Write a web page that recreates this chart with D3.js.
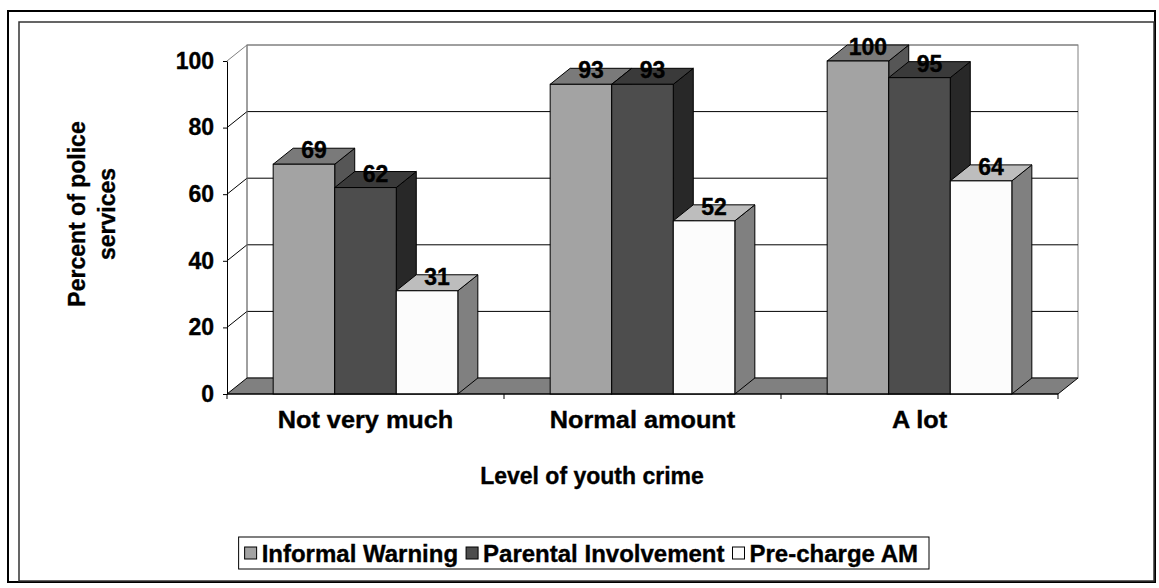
<!DOCTYPE html>
<html>
<head>
<meta charset="utf-8">
<script src="https://cdn.jsdelivr.net/npm/d3@7"></script>
<style>
  html, body { margin: 0; padding: 0; background: #fff; }
  text { font-family: "Liberation Sans", Arial, sans-serif; font-weight: bold; fill: #000;
         stroke: #000; stroke-width: 0.35px; }
</style>
</head>
<body>
<script>
// Chart data
const categories = ["Not very much", "Normal amount", "A lot"];
const seriesNames = ["Informal Warning", "Parental Involvement", "Pre-charge AM"];
const informalWarning = [69, 93, 100];
const parentalInvolvement = [62, 93, 95];
const preChargeAM = [31, 52, 64];
const yTicks = [0, 20, 40, 60, 80, 100];
const xTitle = "Level of youth crime";
const yTitleLines = ["Percent of police", "services"];

const seriesValues = [informalWarning, parentalInvolvement, preChargeAM];

// Face shades per series: front, top, side
const shades = [
  { front: "#a3a3a3", top: "#7a7a7a", side: "#565656" },
  { front: "#4d4d4d", top: "#3a3a3a", side: "#282828" },
  { front: "#fcfcfc", top: "#bdbdbd", side: "#808080" }
];

const W = 1159, H = 588;
const DX = 20, DY = -16;           // 3D depth offset
const FONT = 23;

const svg = d3.select("body").append("svg")
  .attr("width", W).attr("height", H);

// Frames
svg.append("rect").attr("x", 8).attr("y", 11).attr("width", 1147).attr("height", 571)
  .attr("fill", "#fff").attr("stroke", "#000").attr("stroke-width", 2);
svg.append("rect").attr("x", 19).attr("y", 22).attr("width", 1135).attr("height", 559)
  .attr("fill", "none").attr("stroke", "#333").attr("stroke-width", 1.5);

const x0 = d3.scaleBand().domain(categories).range([227, 1058]);
const x1 = d3.scaleBand().domain(seriesNames).range([0, x0.bandwidth()])
  .paddingInner(0).paddingOuter(0.75);
const y = d3.scaleLinear().domain([0, 100]).range([394, 61]);

const [xl, xr] = x0.range();
const plot = svg.append("g");

// Back wall
plot.append("rect")
  .attr("x", xl + DX).attr("y", y(100) + DY)
  .attr("width", xr - xl).attr("height", y(0) - y(100))
  .attr("fill", "#fff").attr("stroke", "#808080").attr("stroke-width", 1);

// Gridlines on back wall and side wall
yTicks.filter(t => t > 0).forEach(t => {
  const col = t === 100 ? "#808080" : "#000";
  plot.append("line")
    .attr("x1", xl + DX).attr("x2", xr + DX)
    .attr("y1", y(t) + DY).attr("y2", y(t) + DY)
    .attr("stroke", col).attr("stroke-width", 1);
  plot.append("line")
    .attr("x1", xl).attr("x2", xl + DX)
    .attr("y1", y(t)).attr("y2", y(t) + DY)
    .attr("stroke", col).attr("stroke-width", 1);
});
plot.append("line")
  .attr("x1", xl + DX).attr("x2", xl + DX)
  .attr("y1", y(0) + DY).attr("y2", y(100) + DY)
  .attr("stroke", "#808080");

// Floor
plot.append("polygon")
  .attr("points", [[xl, y(0)], [xr, y(0)], [xr + DX, y(0) + DY], [xl + DX, y(0) + DY]].map(p => p.join(",")).join(" "))
  .attr("fill", "#808080").attr("stroke", "#000").attr("stroke-width", 1);

// Y axis
const yAxis = plot.append("g")
  .attr("transform", `translate(${xl},0)`)
  .call(d3.axisLeft(y).tickValues(yTicks).tickSize(4).tickSizeOuter(0).tickPadding(9));
yAxis.select(".domain").attr("stroke", "#000");
yAxis.selectAll(".tick line").attr("stroke", "#000");
yAxis.selectAll(".tick text")
  .attr("font-size", FONT).attr("font-family", null).attr("fill", "#000");

// Bars
const bars = plot.append("g");
categories.forEach((cat, i) => {
  seriesNames.forEach((s, j) => {
    const v = seriesValues[j][i];
    const bx = x0(cat) + x1(s);
    const bw = x1.bandwidth();
    const yt = y(v), yb = y(0);
    const sh = shades[j];
    const pts = a => a.map(p => p.join(",")).join(" ");
    bars.append("polygon")
      .attr("points", pts([[bx + bw, yt], [bx + bw + DX, yt + DY], [bx + bw + DX, yb + DY], [bx + bw, yb]]))
      .attr("fill", sh.side).attr("stroke", "#000").attr("stroke-width", 1);
    bars.append("polygon")
      .attr("points", pts([[bx, yt], [bx + DX, yt + DY], [bx + bw + DX, yt + DY], [bx + bw, yt]]))
      .attr("fill", sh.top).attr("stroke", "#000").attr("stroke-width", 1);
    bars.append("rect")
      .attr("x", bx).attr("y", yt).attr("width", bw).attr("height", yb - yt)
      .attr("fill", sh.front).attr("stroke", "#000").attr("stroke-width", 1);
  });
});

// X axis line, boundary ticks and category labels
const xAxis = plot.append("g").attr("transform", `translate(0,${y(0)})`);
xAxis.append("line").attr("x1", xl).attr("x2", xr).attr("stroke", "#000");
const bounds = categories.map(c => x0(c)).concat([xr]);
xAxis.selectAll("line.bt").data(bounds).enter().append("line")
  .attr("class", "bt").attr("x1", d => d).attr("x2", d => d)
  .attr("y1", 0).attr("y2", 5).attr("stroke", "#000");
xAxis.selectAll("text.cat").data(categories).enter().append("text")
  .attr("class", "cat")
  .attr("transform", d => `translate(${x0(d) + x0.bandwidth() / 2},34) scale(1.1,1)`)
  .attr("text-anchor", "middle").attr("font-size", FONT)
  .text(d => d);

// Value labels
const labels = plot.append("g");
categories.forEach((cat, i) => {
  seriesNames.forEach((s, j) => {
    const v = seriesValues[j][i];
    labels.append("text")
      .attr("x", x0(cat) + x1(s) + x1.bandwidth() / 2 + DX / 2)
      .attr("y", y(v) - 6)
      .attr("text-anchor", "middle").attr("font-size", FONT)
      .text(v);
  });
});

// Axis titles
svg.append("text")
  .attr("x", 592).attr("y", 484)
  .attr("text-anchor", "middle").attr("font-size", FONT)
  .text(xTitle);

const yt = svg.append("text")
  .attr("transform", "translate(0,214) rotate(-90)")
  .attr("text-anchor", "middle").attr("font-size", FONT);
yTitleLines.forEach((line, k) => {
  yt.append("tspan").attr("x", 0).attr("y", 85 + k * 30).text(line);
});

// Legend
const legend = svg.append("g");
const sq = 12, gapSq = 5, gapItem = 8, padL = 6, padR = 11;
let cx = 0;
seriesNames.forEach((name, j) => {
  const g = legend.append("g");
  g.append("rect").attr("x", 0).attr("y", -sq / 2).attr("width", sq).attr("height", sq)
    .attr("fill", shades[j].front).attr("stroke", "#000").attr("stroke-width", 1);
  const t = g.append("text").attr("x", sq + gapSq).attr("y", 0).attr("dy", "0.36em")
    .attr("font-size", 24).text(name);
  const w = sq + gapSq + t.node().getComputedTextLength();
  g.attr("transform", `translate(${cx},0)`);
  cx += w + gapItem;
});
const totalW = cx - gapItem;
const lgRight = 929, lgTop = 537, lgBottom = 569;
const lgLeft = lgRight - totalW - padL - padR;
legend.insert("rect", ":first-child")
  .attr("x", -padL).attr("y", lgTop - (lgTop + lgBottom) / 2)
  .attr("width", totalW + padL + padR).attr("height", lgBottom - lgTop)
  .attr("fill", "#fff").attr("stroke", "#000").attr("stroke-width", 1);
legend.attr("transform", `translate(${lgLeft + padL},${(lgTop + lgBottom) / 2})`);
</script>
</body>
</html>
